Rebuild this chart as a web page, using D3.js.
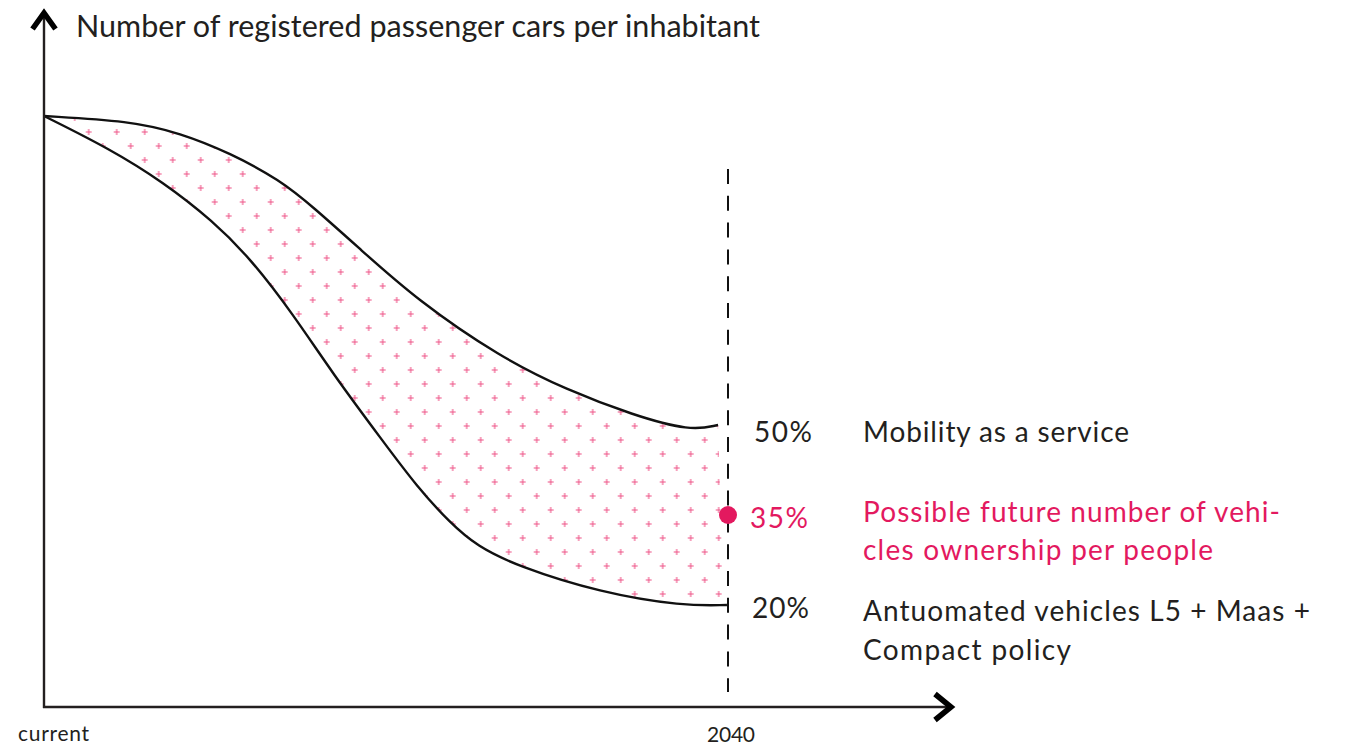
<!DOCTYPE html>
<html>
<head>
<meta charset="utf-8">
<script src="https://cdn.jsdelivr.net/npm/d3@7"></script>
<style>
  html, body { margin: 0; padding: 0; background: #fff; }
  svg { display: block; }
  text { font-family: Lato, "Open Sans", sans-serif; fill: #231f20; }
</style>
</head>
<body>
<svg id="chart" width="1350" height="749"></svg>
<script>
// Years from now (0 = current, 20 = 2040) and car ownership as % of today's level
const upperT = [0, 2.51, 3.98, 5.44, 6.90, 7.87, 9.24, 10.91, 13.33, 15.29, 17.22, 18.89, 19.71];
const upperV = [101.5, 100.67, 98.67, 95.33, 90.83, 86.33, 79.33, 70.83, 61.33, 55.83, 51.67, 49.0, 50];
const lowerT = [0, 1.93, 3.48, 4.94, 6.02, 7.28, 8.45, 9.91, 10.91, 11.87, 12.66, 13.83, 16.26, 18.68, 19.97];
const lowerV = [101.5, 96, 90.5, 84, 77.85, 68.5, 58.5, 47.3, 39.7, 33.7, 29.8, 26.5, 22.07, 19.83, 20];

const xTickLabels = ["current", "2040"];
const xTickValues = [0, 20];

const scenarioValues = [50, 35, 20];
const scenarioPercent = ["50%", "35%", "20%"];
const scenarioText = [
  ["Mobility as a service"],
  ["Possible future number of vehi-", "cles ownership per people"],
  ["Antuomated vehicles L5 + Maas +", "Compact policy"]
];
const title = "Number of registered passenger cars per inhabitant";

const pink = "#e3195f";
const ink = "#231f20";

const svg = d3.select("#chart");
const axisLeft = 44, axisBottom = 707;

const x = d3.scaleLinear().domain([0, 20]).range([44, 728]);
const y = d3.scaleLinear().domain([0, 100]).range([725, 125]);

// Plus-sign hatch for the band of possible outcomes
const defs = svg.append("defs");
const pat = defs.append("pattern")
  .attr("id", "plus")
  .attr("patternUnits", "userSpaceOnUse")
  .attr("x", 165.7).attr("y", 153)
  .attr("width", 28).attr("height", 28);
[[7, 7], [21, 21]].forEach(([cx, cy]) => {
  pat.append("path")
    .attr("d", `M${cx - 3},${cy}H${cx + 3}M${cx},${cy - 3}V${cy + 3}`)
    .attr("stroke", "#ee5487")
    .attr("stroke-width", 1.1)
    .attr("fill", "none");
});

const upper = upperT.map((t, i) => [t, upperV[i]]);
const lower = lowerT.map((t, i) => [t, lowerV[i]]);

const line = d3.line()
  .x(d => x(d[0]))
  .y(d => y(d[1]))
  .curve(d3.curveBasis);

// Band between the two scenario curves: area above the lower curve, clipped below the upper one
defs.append("clipPath").attr("id", "below-upper")
  .append("path").attr("d", line(upper) + "L728,760L44,760Z");
svg.append("path")
  .attr("d", line(lower) + "L728,0L44,0Z")
  .attr("clip-path", "url(#below-upper)")
  .attr("fill", "url(#plus)")
  .attr("stroke", "none");

svg.append("path").attr("d", line(upper))
  .attr("fill", "none").attr("stroke", "#111").attr("stroke-width", 2.4);
svg.append("path").attr("d", line(lower))
  .attr("fill", "none").attr("stroke", "#111").attr("stroke-width", 2.4);

// 2040 horizon marker
svg.append("line")
  .attr("x1", x(xTickValues[1])).attr("x2", x(xTickValues[1]))
  .attr("y1", 169).attr("y2", 692)
  .attr("stroke", "#111").attr("stroke-width", 2)
  .attr("stroke-dasharray", "15 11.8");

// Axes with chevron arrowheads
svg.append("line")
  .attr("x1", axisLeft).attr("x2", axisLeft)
  .attr("y1", 12).attr("y2", axisBottom + 1)
  .attr("stroke", ink).attr("stroke-width", 2.4);
svg.append("line")
  .attr("x1", axisLeft - 1).attr("x2", 950)
  .attr("y1", axisBottom).attr("y2", axisBottom)
  .attr("stroke", ink).attr("stroke-width", 2.4);
svg.append("path")
  .attr("d", "M32.5,29L44,13L55.5,29")
  .attr("fill", "none").attr("stroke", "#000").attr("stroke-width", 5.5)
  .attr("stroke-linejoin", "miter").attr("stroke-miterlimit", 10);
svg.append("path")
  .attr("d", "M935,694L951,707L935,720")
  .attr("fill", "none").attr("stroke", "#000").attr("stroke-width", 5.5)
  .attr("stroke-linejoin", "miter").attr("stroke-miterlimit", 10);

// Text helper: fixed font size, spacing stretched to a set width
function label(xPos, yPos, size, width, str, col) {
  return svg.append("text")
    .attr("x", xPos).attr("y", yPos)
    .attr("font-size", size)
    .attr("textLength", width)
    .attr("lengthAdjust", "spacing")
    .style("fill", col || ink)
    .text(str);
}

label(76, 37, 30.5, 684, title);

label(18, 741, 21, 71, xTickLabels[0]);
label(707, 742, 21, 48, xTickLabels[1]);

// Central estimate point
svg.append("circle")
  .attr("cx", x(xTickValues[1])).attr("cy", y(scenarioValues[1]))
  .attr("r", 9).attr("fill", pink);

// Scenario labels
const pctX = [754, 750, 752];
const pctW = [58, 58, 57];
const pctBase = [442, 528, 618];
const textBase = [[442], [522, 560], [621, 660]];
const textW = [[266], [417, 350], [447, 208]];
scenarioValues.forEach((v, i) => {
  const col = i === 1 ? pink : ink;
  label(pctX[i], pctBase[i], 28, pctW[i], scenarioPercent[i], col);
  scenarioText[i].forEach((s, j) => {
    label(863, textBase[i][j], 28, textW[i][j], s, col);
  });
});
</script>
</body>
</html>
